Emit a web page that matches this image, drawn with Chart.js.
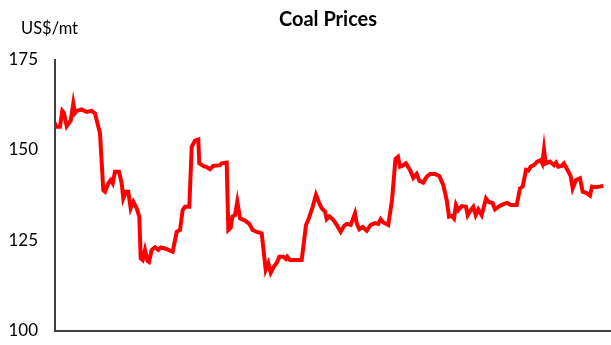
<!DOCTYPE html>
<html>
<head>
<meta charset="utf-8">
<script src="https://cdn.jsdelivr.net/npm/chart.js@4"></script>
<style>
  html, body { margin: 0; padding: 0; background: #fff; }
  #wrap { position: relative; width: 611px; height: 345px; }
  #title { position: absolute; left: 0; width: 656px; top: 6px; text-align: center;
           font: bold 20px Lato, "Open Sans", sans-serif; color: #000; }
  #unit { position: absolute; left: 21px; top: 18px;
          font: 16.5px Lato, "Open Sans", sans-serif; color: #000; }
  canvas { position: absolute; left: 0; top: 0; }
</style>
</head>
<body>
<div id="wrap">
  <canvas id="c" width="611" height="345"></canvas>
  <div id="title">Coal Prices</div>
  <div id="unit">US$/mt</div>
</div>
<script>
// time index (arbitrary units along the period shown)
const period = [0,1,5,7.3,9,11.7,15.7,18.3,20,21.7,26.7,31.7,36.7,40,45,48.3,50,53.3,55.7,57.7,60,64,66.7,68.3,71,73.3,75.7,78.3,81.7,84.3,85.7,87.7,90,92.5,94,96.7,100,103.3,105.7,110,117.7,121.7,125,127.7,130,134.3,136.7,140,143.3,144.3,148.3,151.7,155,158.3,165,166.7,171.7,173.3,175.7,177.3,180,182.3,185,190,194.3,197.7,201.7,206.7,210.7,213.3,215.7,219,222.3,224.3,228.3,231,232.3,235,246.7,251,253.3,257.7,261,264.3,266.7,270,271.7,274.3,278.3,281.7,285.7,289,291.7,295.7,300,301.7,304.3,307.7,311.7,315.7,320,323.3,325.7,328.3,333.3,337,340.5,343,345,348.3,351,355,358.3,361.7,364.3,368.3,371.7,375,380,384.3,388.3,391.7,394,396.7,399,401,403.3,406.7,411,412.7,415.7,418.3,420.7,423.3,426.7,431,433.3,437.7,440,444.3,449,452.3,455.7,461.7,465,467.7,471,473.3,475.7,479,482.3,485.7,487.3,489,490.7,495,499,501,503.3,506.7,509,511.7,515.7,517.7,521,525,527.7,531.7,535,537,540,545,548.3];
const price = [157.5,156.4,156.4,160.8,160.2,156.6,158.1,162.9,160.2,160.8,161.2,160.5,160.8,160.1,154.6,138.9,138.5,140.8,141.7,140.8,144.0,144.0,140.8,136.6,138.5,138.5,133.9,135.7,133.9,131.6,120.1,119.6,122.4,119.4,119.1,122.4,123.1,122.4,123.1,122.8,121.9,127.4,127.9,133.4,134.3,134.3,150.9,152.6,152.9,146.3,145.6,145.3,144.7,145.6,145.8,146.3,146.5,127.9,128.5,131.6,132.0,135.7,131.1,130.5,129.6,127.9,127.4,127.0,116.9,118.7,116.1,117.8,119.1,120.5,120.5,119.9,120.5,119.6,119.6,129.3,130.7,134.3,137.6,135.3,133.9,133.0,130.9,131.7,130.7,129.3,127.4,129.0,129.6,129.3,132.5,129.8,128.1,128.7,127.7,129.3,129.8,129.6,130.9,130.0,129.3,136.2,147.5,148.1,145.4,145.8,146.3,144.5,142.3,143.4,141.5,141.0,142.6,143.4,143.4,142.8,140.3,136.2,131.6,131.8,131.1,134.8,133.4,134.5,134.3,132.0,133.4,134.3,132.0,133.6,132.0,136.6,135.7,135.3,133.6,134.5,135.1,135.4,134.8,134.8,139.4,139.9,144.5,144.3,145.4,145.8,146.8,147.2,146.3,150.2,146.3,146.8,145.8,146.5,145.4,145.6,146.3,144.9,142.8,139.4,141.7,142.2,138.5,138.1,137.4,139.9,139.7,139.9,140.1];
const yTicks = [100, 125, 150, 175];

const points = period.map((t, i) => ({ x: t, y: price[i] }));

new Chart(document.getElementById('c'), {
  type: 'line',
  data: {
    datasets: [{
      data: points,
      borderColor: '#FF0000',
      borderWidth: 4,
      pointRadius: 0,
      tension: 0,
      fill: false
    }]
  },
  options: {
    responsive: false,
    animation: false,
    events: [],
    layout: { padding: { left: 0, right: 1, top: 59.5, bottom: 14 } },
    plugins: { legend: { display: false }, title: { display: false }, tooltip: { enabled: false } },
    scales: {
      x: {
        type: 'linear',
        min: 0,
        max: 555,
        ticks: { display: false },
        grid: { display: false, drawTicks: false },
        border: { display: true, color: '#404040', width: 2 },
        afterFit: (s) => { s.height = 0; s.paddingLeft = 0; s.paddingRight = 0; }
      },
      y: {
        min: yTicks[0],
        max: yTicks[yTicks.length - 1],
        afterBuildTicks: (s) => { s.ticks = yTicks.map(v => ({ value: v })); },
        ticks: {
          color: '#000',
          padding: 17,
          font: { family: 'Lato, "Open Sans", sans-serif', size: 17 }
        },
        grid: { display: false, drawTicks: false },
        border: { display: true, color: '#404040', width: 2 },
        afterFit: (s) => { s.width = 55; s.paddingTop = 0; s.paddingBottom = 0; }
      }
    }
  }
});
</script>
</body>
</html>
